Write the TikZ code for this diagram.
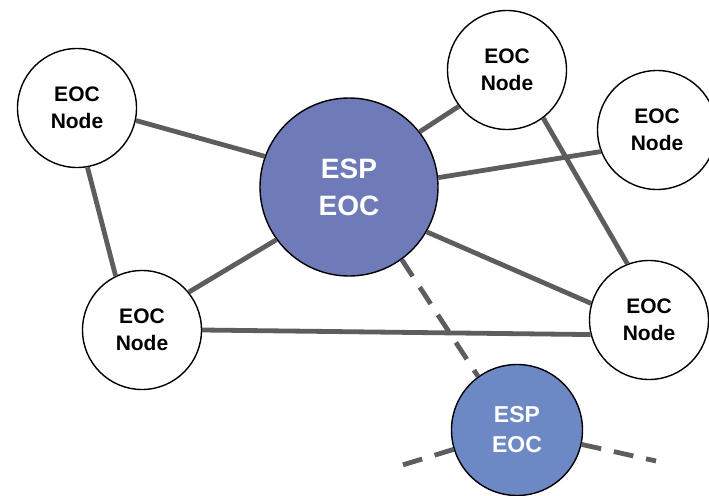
\documentclass[tikz,border=0pt]{standalone}
\usepackage{fontspec}
\setmainfont{Liberation Sans}
\definecolor{HubBlue}{RGB}{111,123,185}
\definecolor{SubBlue}{RGB}{108,136,197}
\definecolor{LinkGray}{RGB}{93,93,93}
\usetikzlibrary{arrows.meta, positioning}

\begin{document}
\begin{tikzpicture}[x=1pt, y=-1pt,
	eocnode/.style={circle, draw=black, line width=1.4pt, fill=white, minimum size=119pt,
		inner sep=0pt, align=center, font=\bfseries\fontsize{21}{27}\selectfont},
	espbig/.style={circle, draw=black, line width=1.4pt, fill=HubBlue, text=white, minimum size=178pt,
		inner sep=0pt, align=center, font=\bfseries\fontsize{28}{37}\selectfont},
	espsmall/.style={circle, draw=black, line width=1.4pt, fill=SubBlue, text=white, minimum size=131pt,
		inner sep=0pt, align=center, font=\bfseries\fontsize{23}{30}\selectfont},
	link/.style={draw=LinkGray, line width=4.8pt},
	weaklink/.style={link, dash pattern=on 20pt off 13pt}]
	\useasboundingbox (0,0) rectangle (709,495);
	% nodes
	\node[eocnode] (nodeA) at (77,108) {EOC\\Node};
	\node[espbig] (hub) at (349,187) {ESP\\EOC};
	\node[eocnode] (nodeC) at (507,70) {EOC\\Node};
	\node[eocnode] (nodeD) at (657,130) {EOC\\Node};
	\node[eocnode] (nodeE) at (142,330) {EOC\\Node};
	\node[eocnode] (nodeF) at (649,320) {EOC\\Node};
	\node[espsmall] (sub) at (517,430) {ESP\\EOC};
	\coordinate (leftend) at (396,467);
	\coordinate (rightend) at (656,461);
	% solid links
	\draw[link] (nodeA.348) -- (hub.160);
	\draw[link] (nodeA.280) -- (nodeE.116);
	\draw[link] (nodeE.39) -- (hub.216);
	\draw[link] (hub.38) -- (nodeC.217);
	\draw[link] (hub.6) -- (nodeD.201);
	\draw[link] (hub.330) -- (nodeF.164);
	\draw[link] (nodeC.307) -- (nodeF.111);
	\draw[link] (nodeE.east) -- (nodeF.194);
	% dashed links
	\draw[weaklink] (hub.306) -- (sub.126);
	\draw[weaklink] (sub) -- (leftend);
	\draw[weaklink] (sub) -- (rightend);
\end{tikzpicture}
\end{document}
